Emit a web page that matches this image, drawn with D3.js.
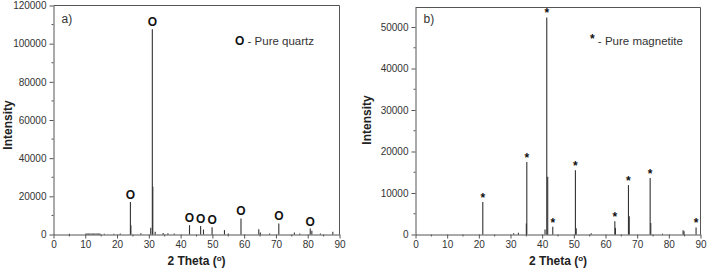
<!DOCTYPE html>
<html><head><meta charset="utf-8">
<script src="https://cdn.jsdelivr.net/npm/d3@7"></script>
<style>body{margin:0;background:#fff}svg{display:block;font-family:"Liberation Sans",Arial,sans-serif}</style>
</head><body><svg id="c" width="707" height="270"></svg>
<script>
// Panel a: pure quartz XRD (2θ, intensity)
const quartzTheta = [5.0, 10.2, 10.6, 11.0, 11.4, 11.8, 12.2, 12.6, 13.0, 13.4, 13.8, 14.2, 14.6, 16.0, 19.0, 21.0, 24.2, 24.35, 27.5, 30.6, 31.1, 31.25, 32.0, 34.5, 36.0, 38.0, 42.8, 46.3, 47.2, 49.9, 53.8, 55.0, 59.0, 64.6, 65.1, 68.0, 70.9, 75.8, 77.5, 80.8, 81.3, 84.0, 87.9];
const quartzIntensity = [400, 500, 500, 500, 500, 500, 500, 500, 500, 500, 500, 500, 500, 400, 400, 500, 17000, 4800, 600, 3500, 107500, 25000, 1500, 800, 600, 500, 4900, 4500, 2600, 3800, 2300, 500, 8400, 2800, 1000, 500, 5800, 1000, 500, 3100, 2000, 500, 1500];
const quartzMarkTheta = [24.2, 31.1, 42.8, 46.3, 49.9, 59.0, 70.9, 80.8];
const quartzMarkIntensity = [17000, 107500, 4900, 4500, 3800, 8400, 5800, 3100];

// Panel b: pure magnetite XRD (2θ, intensity)
const magTheta = [21.25, 31.0, 32.5, 35.0, 35.15, 40.9, 41.45, 41.75, 43.35, 50.5, 50.75, 55.5, 62.95, 63.15, 67.25, 67.5, 74.1, 74.3, 78.0, 84.5, 84.8, 88.6];
const magIntensity = [7850, 300, 400, 2650, 17500, 1200, 52300, 13900, 1850, 15500, 1500, 300, 3200, 1600, 11900, 4400, 13600, 2800, 200, 1000, 800, 1700];
const magMarkTheta = [21.25, 35.15, 41.45, 43.35, 50.5, 62.95, 67.25, 74.1, 88.6];
const magMarkIntensity = [7850, 17500, 52300, 1850, 15500, 3200, 11900, 13600, 1700];

const xTicks = [0, 10, 20, 30, 40, 50, 60, 70, 80, 90];
const yTicksA = [0, 20000, 40000, 60000, 80000, 100000, 120000];
const yTicksB = [0, 10000, 20000, 30000, 40000, 50000];

const svg = d3.select("#c");
const axisCol = "#555", textCol = "#333", lineCol = "#333";

function panel(o) {
  const g = svg.append("g");
  const x = d3.scaleLinear().domain([0, 90]).range([o.left, o.right]);
  const y = d3.scaleLinear().domain([0, o.ymax]).range([o.bottom, o.top]);
  // frame top/right
  g.append("path").attr("d", `M${o.left},${o.top}H${o.right}V${o.bottom}`)
    .attr("fill", "none").attr("stroke", axisCol).attr("stroke-width", 1);
  // minor ticks
  const xMinor = d3.range(5, 90, 10);
  g.selectAll(".xm").data(xMinor).join("line")
    .attr("x1", d => x(d)).attr("x2", d => x(d)).attr("y1", o.bottom).attr("y2", o.bottom + 2)
    .attr("stroke", axisCol);
  const yMinor = d3.range(o.ystep / 2, o.ymax, o.ystep);
  g.selectAll(".ym").data(yMinor).join("line")
    .attr("x1", o.left - 2).attr("x2", o.left).attr("y1", d => y(d)).attr("y2", d => y(d))
    .attr("stroke", axisCol);
  // axes
  const xa = g.append("g").attr("transform", `translate(0,${o.bottom})`)
    .call(d3.axisBottom(x).tickValues(xTicks).tickSize(4).tickSizeOuter(0).tickPadding(2));
  const ya = g.append("g").attr("transform", `translate(${o.left},0)`)
    .call(d3.axisLeft(y).tickValues(o.yTicks).tickSize(4).tickSizeOuter(0).tickPadding(3).tickFormat(d3.format("d")));
  [xa, ya].forEach(a => {
    a.select(".domain").attr("stroke", axisCol);
    a.selectAll(".tick line").attr("stroke", axisCol);
    a.selectAll("text").attr("fill", textCol).style("font-size", "10px")
      .style("font-family", '"Liberation Sans",Arial,sans-serif');
  });
  // peaks
  g.selectAll(".pk").data(o.theta).join("line")
    .attr("x1", d => x(d)).attr("x2", d => x(d))
    .attr("y1", y(0)).attr("y2", (d, i) => y(o.inten[i]))
    .attr("stroke", lineCol).attr("stroke-width", 1.1);
  // markers
  g.selectAll(".mk").data(o.markT).join("text")
    .attr("x", d => x(d)).attr("y", (d, i) => y(o.markI[i]) - o.markOff)
    .attr("text-anchor", "middle").attr("dominant-baseline", "central")
    .attr("fill", "#111").style("font-size", o.markSize).style("font-weight", o.markWeight)
    .text(o.mark);
  // panel letter
  g.append("text").attr("x", o.left + 8).attr("y", 23).attr("fill", textCol)
    .style("font-size", "12px").text(o.letter);
  // legend
  const lg = g.append("text").attr("x", o.legX).attr("y", 45).attr("fill", textCol).style("font-size", "11.5px");
  lg.append("tspan").attr("fill", "#111").style("font-size", o.legMarkSize).style("font-weight", o.markWeight)
    .attr("dy", o.legMarkDy).text(o.mark);
  lg.append("tspan").attr("dy", -o.legMarkDy).text(" - " + o.legend);
  // axis titles
  const xt = g.append("text").attr("x", (o.left + o.right) / 2).attr("y", 265)
    .attr("text-anchor", "middle").attr("fill", "#222").style("font-size", "12px").style("font-weight", "bold");
  xt.append("tspan").text("2 Theta (");
  xt.append("tspan").attr("dy", -4).style("font-size", "8px").text("o");
  xt.append("tspan").attr("dy", 4).text(")");
  g.append("text").attr("transform", `translate(${o.ylabX},${o.ylabY}) rotate(-90)`)
    .attr("text-anchor", "middle").attr("dominant-baseline", "central")
    .attr("fill", "#222").style("font-size", "12px").style("font-weight", "bold").text("Intensity");
}

panel({left: 53.5, right: 339.5, top: 5.5, bottom: 234.5, ymax: 120000, ystep: 20000, yTicks: yTicksA,
  theta: quartzTheta, inten: quartzIntensity, markT: quartzMarkTheta, markI: quartzMarkIntensity,
  mark: "O", markOff: 7, markSize: "12px", markWeight: "bold", letter: "a)", legX: 235, legend: "Pure quartz",
  legMarkSize: "12px", legMarkDy: 0, ylabX: 8, ylabY: 125});
panel({left: 415.5, right: 700.5, top: 7.5, bottom: 234.5, ymax: 54700, ystep: 10000, yTicks: yTicksB,
  theta: magTheta, inten: magIntensity, markT: magMarkTheta, markI: magMarkIntensity,
  mark: "*", markOff: 4, markSize: "12px", markWeight: "bold", letter: "b)", legX: 590, legend: "Pure magnetite",
  legMarkSize: "12px", legMarkDy: -2, ylabX: 367, ylabY: 120});
</script></body></html>
